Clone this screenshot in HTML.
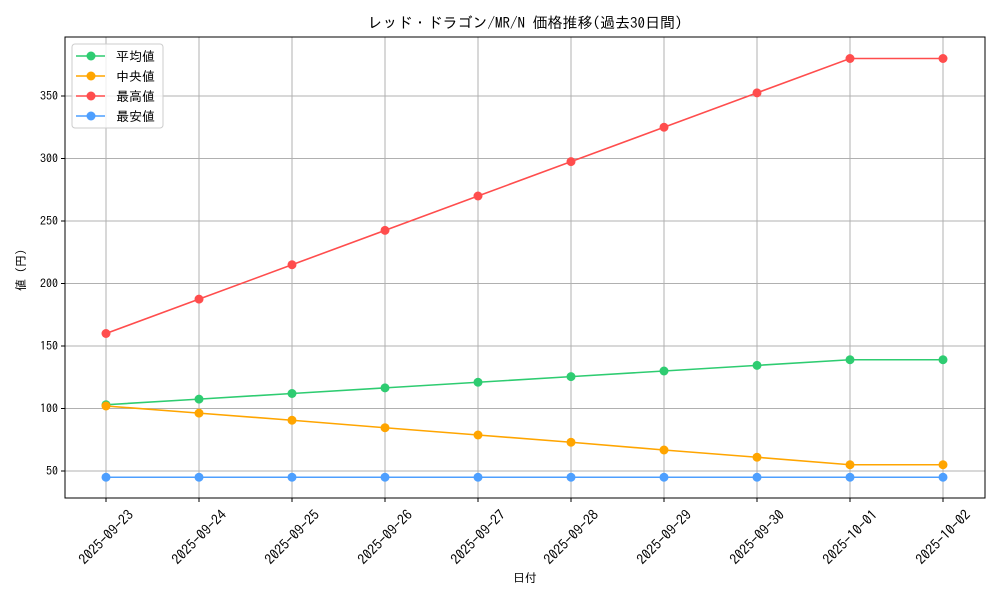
<!DOCTYPE html>
<html><head><meta charset="utf-8"><style>
body{margin:0;background:#fff;}
svg text{font-family:"IPAGothic","Liberation Sans","Noto Sans CJK JP",sans-serif;fill:#000;}
</style></head><body>
<svg id="chart" width="1000" height="600">
<rect width="1000" height="600" fill="#fff"/>
<text x="525" y="28" font-size="15" text-anchor="middle">レッド・ドラゴン/MR/N 価格推移(過去30日間)</text>
<g id="grid"></g><g id="axes"></g><g id="series"></g>
<text x="525" y="582" font-size="12" text-anchor="middle">日付</text>
<text transform="translate(25,270) rotate(-90)" font-size="12" text-anchor="middle">値 (円)</text>
<g id="legend"></g>
</svg>
<script>
const categories=["2025-09-23","2025-09-24","2025-09-25","2025-09-26","2025-09-27","2025-09-28","2025-09-29","2025-09-30","2025-10-01","2025-10-02"];
const meanValues=[103,107.5,112,116.5,121,125.5,130,134.5,139,139];
const medianValues=[102,96.3,90.6,84.6,78.8,73,66.8,61,55,55];
const maxValues=[160,187.5,215,242.5,270,297.5,325,352.5,380,380];
const minValues=[45,45,45,45,45,45,45,45,45,45];
const yTicks=[50,100,150,200,250,300,350];
const seriesNames=["平均値","中央値","最高値","最安値"];
const L=65,R=985,T=37,B=498;
const x=i=>106+i*(943-106)/(categories.length-1);
const y=v=>471-(v-50)*1.25;
const NS="http://www.w3.org/2000/svg";
function mk(t,a,p){const e=document.createElementNS(NS,t);for(const k in a)e.setAttribute(k,a[k]);p.appendChild(e);return e;}
const grid=document.getElementById('grid'),axes=document.getElementById('axes'),ser=document.getElementById('series'),leg=document.getElementById('legend');
categories.forEach((c,i)=>{
 const g=mk('line',{x1:x(i),x2:x(i),y1:T,y2:B,stroke:'#b0b0b0','stroke-width':1},grid);
 
 mk('line',{x1:x(i),x2:x(i),y1:B,y2:B+4,stroke:'#000'},axes);
 const t=mk('text',{'font-size':14,'text-anchor':'middle','dominant-baseline':'central',transform:`translate(${x(i)},537) rotate(-45)`},axes);
 t.textContent=c;
});
yTicks.forEach(v=>{
 const g=mk('line',{x1:L,x2:R,y1:y(v),y2:y(v),stroke:'#b0b0b0','stroke-width':1},grid);
 
 mk('line',{x1:L-4,x2:L,y1:y(v),y2:y(v),stroke:'#000'},axes);
 const t=mk('text',{x:L-7,y:y(v)+4,'font-size':12,'text-anchor':'end'},axes);
 t.textContent=v;
});
const fr=mk('rect',{x:L,y:T,width:R-L,height:B-T,fill:'none',stroke:'#000','stroke-width':1},axes);

const data=[meanValues,medianValues,maxValues,minValues];
const colors=['#2ecc71','#ffa500','#ff4d4d','#4d9fff'];
const names=['mean-line','median-line','max-line','min-line'];
data.forEach((d,s)=>{
 const g=mk('g',{},ser);
 mk('polyline',{points:d.map((v,i)=>x(i)+','+y(v)).join(' '),fill:'none',stroke:colors[s],'stroke-width':1.6},g);
 d.forEach((v,i)=>{const c=mk('circle',{cx:x(i),cy:y(v),r:4.5,fill:colors[s]},g);});
});
const lb=mk('rect',{x:72,y:44,width:91,height:84,rx:3,fill:'#fff','fill-opacity':0.8,stroke:'#ccc'},leg);

seriesNames.forEach((n,s)=>{
 const yy=56+s*20;
 const g=mk('g',{},leg);
 mk('line',{x1:76,x2:105,y1:yy,y2:yy,stroke:colors[s],'stroke-width':1.6},g);
 mk('circle',{cx:91,cy:yy,r:4.5,fill:colors[s]},g);
 const t=mk('text',{x:116,y:yy+5,'font-size':13},g);t.textContent=n;
});
</script>
</body></html>
